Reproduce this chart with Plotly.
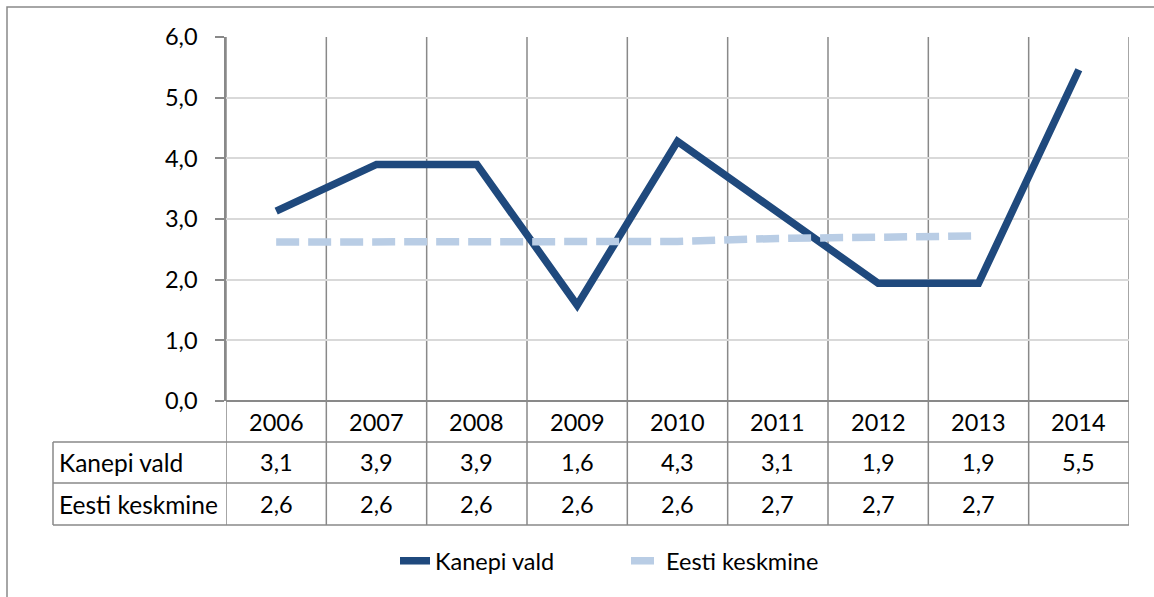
import plotly.graph_objects as go

# andmed
years = ["2006", "2007", "2008", "2009", "2010", "2011", "2012", "2013", "2014"]
kanepi = [3.13, 3.9, 3.9, 1.58, 4.28, 3.1, 1.94, 1.94, 5.46]
eesti = [2.62, 2.62, 2.63, 2.61, 2.63, 2.68, 2.70, 2.72, None]
series_names = ["Kanepi vald", "Eesti keskmine"]

W, H = 1154, 597
GRID = "#d9d9d9"
LINE = "#898989"
FONT = "Lato"
NUM = 23.5   # numbrite suurus
TXT = 24.5   # tekstide suurus

def px(x):
    return x / W

def py(y):
    return (H - y) / H

def fmt(v):
    return "" if v is None else f"{v:.1f}".replace(".", ",")

idx = list(range(len(years)))

fig = go.Figure()
fig.add_trace(go.Scatter(x=idx, y=kanepi, mode="lines", name=series_names[0],
                         line=dict(color="#1f497d", width=7.5)))
fig.add_trace(go.Scatter(x=idx, y=eesti, mode="lines", name=series_names[1],
                         line=dict(color="#b9cde5", width=7.5, dash="23px,9px")))

shapes = []
# kategooriate piirjooned (läbi graafiku ja tabeli)
for i in range(len(years) + 1):
    shapes.append(dict(type="line", xref="x", yref="paper", x0=i - 0.5, x1=i - 0.5,
                       y0=py(37), y1=py(525), layer="below",
                       line=dict(color=LINE, width=1.5)))
# tabeli horisontaaljooned
for yy in (442, 483, 525):
    shapes.append(dict(type="line", xref="paper", yref="paper", x0=px(53), x1=px(1129),
                       y0=py(yy), y1=py(yy), line=dict(color=LINE, width=1.5)))
shapes.append(dict(type="line", xref="paper", yref="paper", x0=px(53), x1=px(53),
                   y0=py(442), y1=py(525), line=dict(color=LINE, width=1.5)))
# välisraam
shapes.append(dict(type="rect", xref="paper", yref="paper", x0=px(7), x1=1.05,
                   y0=-0.05, y1=py(7), line=dict(color=LINE, width=1.5)))

ann = []
for i, yr in enumerate(years):
    for val, yy in ((yr, 422), (fmt(kanepi[i]), 462), (fmt(eesti[i]), 504)):
        ann.append(dict(x=i, y=py(yy), xref="x", yref="paper", text=val, showarrow=False,
                        xanchor="center", yanchor="middle",
                        font=dict(size=NUM, color="black", family=FONT)))
for name, yy in zip(series_names, (462, 504)):
    ann.append(dict(x=px(57), y=py(yy), xref="paper", yref="paper", text=name, showarrow=False,
                    xanchor="left", yanchor="middle",
                    font=dict(size=TXT, color="black", family=FONT)))

fig.update_layout(
    width=W, height=H,
    margin=dict(l=0, r=0, t=0, b=0, autoexpand=False),
    paper_bgcolor="white", plot_bgcolor="white",
    separators=", ",
    font=dict(family=FONT, size=NUM, color="black"),
    xaxis=dict(domain=[px(226), px(1129)], range=[-0.5, 8.5], showticklabels=False,
               showgrid=False, zeroline=False, showline=False, automargin=False),
    yaxis=dict(domain=[py(401), py(37)], range=[0, 6], dtick=1, tickformat=".1f",
               gridcolor=GRID, gridwidth=1.5, zeroline=True, zerolinecolor=LINE, zerolinewidth=1.5,
               showline=True, linecolor=LINE, linewidth=1.5, automargin=False,
               ticks="outside", ticklen=9, tickcolor=LINE, tickwidth=1.5,
               ticklabelstandoff=13, tickfont=dict(size=NUM)),
    legend=dict(orientation="h", x=px(395), xanchor="left", y=py(561), yanchor="middle",
                font=dict(size=NUM), entrywidth=186, entrywidthmode="pixels"),
    shapes=shapes,
    annotations=ann,
)

fig.write_html("out.html", config={"displayModeBar": False},
               post_script="document.body.style.margin='0';")
